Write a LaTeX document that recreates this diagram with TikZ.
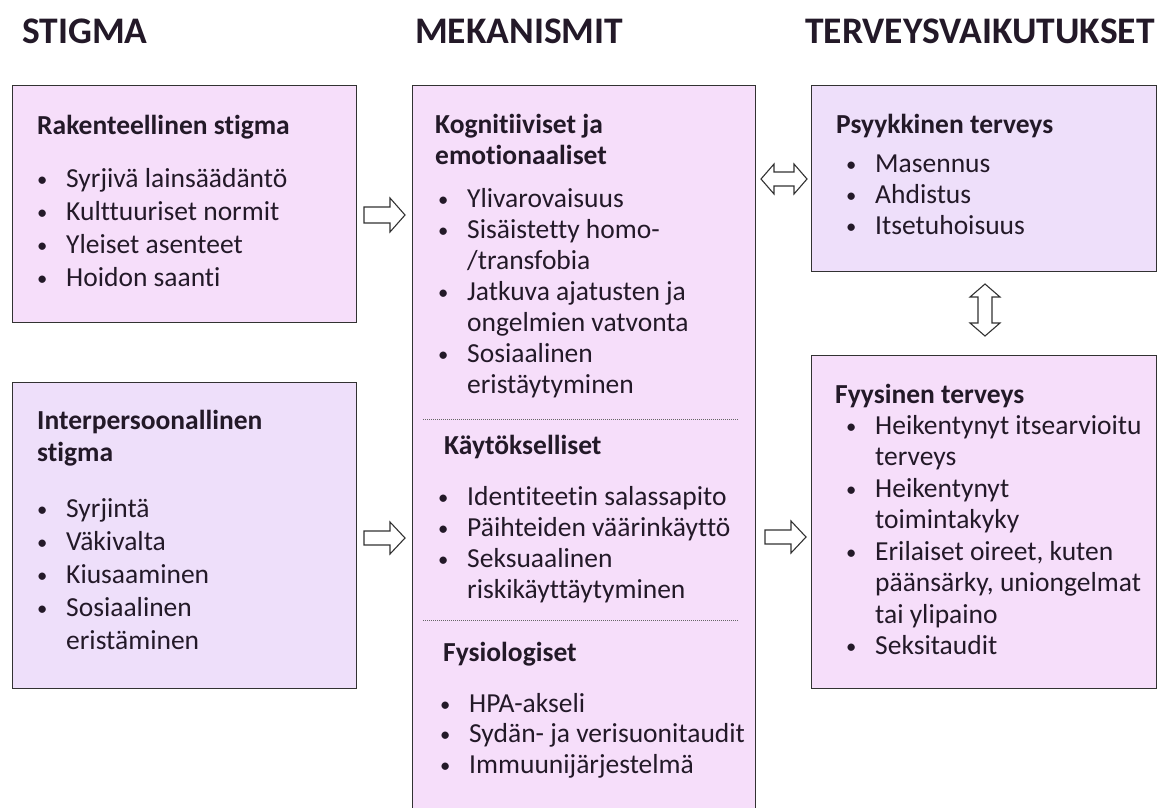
\documentclass[tikz,border=0pt]{standalone}
\usepackage{fontspec}
\setmainfont{Carlito}[Ligatures={NoCommon,NoRare,NoContextual}]
\definecolor{pinkbox}{RGB}{246,222,250}
\definecolor{lavbox}{RGB}{238,223,250}
\definecolor{txt}{RGB}{35,25,40}
\definecolor{edge}{RGB}{50,50,50}
\newcommand\bl[1]{\makebox[29pt][l]{\raisebox{1pt}{\scalebox{0.75}{\textbullet}}}#1}
\newcommand\cn[1]{\hspace*{29pt}#1}
\tikzset{
  box/.style={draw=edge, line width=1.2pt, anchor=north west, inner sep=0pt},
  ttl/.style={anchor=base west, inner sep=0pt, text=txt, font=\fontsize{37.5}{42}\selectfont\bfseries},
  hd/.style={anchor=base west, inner sep=0pt, text=txt, text width=310pt, align=flush left, font=\fontsize{27.5}{#1}\selectfont\bfseries},
  hd/.default=32,
  lst/.style={anchor=base west, inner sep=0pt, text=txt, text width=320pt, align=flush left, font=\fontsize{27.5}{#1}\selectfont},
  lst/.default=33,
  sep/.style={draw=gray!80!black, line width=0.9pt, dash pattern=on 1pt off 1pt},
  blk/.style={draw=edge, line width=1.1pt, fill=white, line join=miter}
}
\begin{document}
\begin{tikzpicture}[x=1pt,y=-1pt]
\clip (0,0) rectangle (1159,807);
\fill[white] (0,0) rectangle (1159,807);
% titles
\node[ttl] (t1) at (22,43) {STIGMA};
\node[ttl] (t2) at (415,43) {MEKANISMIT};
\node[ttl] (t3) at (805,43) {TERVEYSVAIKUTUKSET};
% boxes
\node[box, fill=pinkbox, minimum width=344pt, minimum height=237pt] (b1) at (12,85) {};
\node[box, fill=lavbox, minimum width=344pt, minimum height=306pt] (b2) at (12,382) {};
\node[box, fill=pinkbox, minimum width=343pt, minimum height=760pt] (mid) at (412,85) {};
\node[box, fill=lavbox, minimum width=345pt, minimum height=186pt] (psy) at (811,85) {};
\node[box, fill=pinkbox, minimum width=345pt, minimum height=333pt] (fyy) at (811,355) {};
% box 1
\node[hd] (b1h) at (37,134) {Rakenteellinen stigma};
\node[lst] (b1l) at (37,187) {\bl{Syrjivä lainsäädäntö}\\ \bl{Kulttuuriset normit}\\ \bl{Yleiset asenteet}\\ \bl{Hoidon saanti}};
% box 2
\node[hd] (b2h) at (37,429) {Interpersoonallinen\\ stigma};
\node[lst] (b2l) at (37,517) {\bl{Syrjintä}\\ \bl{Väkivalta}\\ \bl{Kiusaaminen}\\ \bl{Sosiaalinen}\\ \cn{eristäminen}};
% middle
\node[hd=31] (m1h) at (435,133) {Kognitiiviset ja\\ emotionaaliset};
\node[lst=31] (m1l) at (438,207) {\bl{Ylivarovaisuus}\\ \bl{Sisäistetty homo-}\\ \cn{/transfobia}\\ \bl{Jatkuva ajatusten ja}\\ \cn{ongelmien vatvonta}\\ \bl{Sosiaalinen}\\ \cn{eristäytyminen}};
\coordinate (s1a) at (423,419);
\coordinate (s1b) at (738,419);
\draw[sep] (s1a) -- (s1b);
\node[hd] (m2h) at (444,454) {Käytökselliset};
\node[lst=31] (m2l) at (438,505) {\bl{Identiteetin salassapito}\\ \bl{Päihteiden väärinkäyttö}\\ \bl{Seksuaalinen}\\ \cn{riskikäyttäytyminen}};
\coordinate (s2a) at (423,620);
\coordinate (s2b) at (738,620);
\draw[sep] (s2a) -- (s2b);
\node[hd] (m3h) at (443,661) {Fysiologiset};
\node[lst=30.5] (m3l) at (440,712) {\bl{HPA-akseli}\\ \bl{Sydän- ja verisuonitaudit}\\ \bl{Immuunijärjestelmä}};
% psyykkinen
\node[hd] (ph) at (836,133) {Psyykkinen terveys};
\node[lst=31] (pl) at (846,172) {\bl{Masennus}\\ \bl{Ahdistus}\\ \bl{Itsetuhoisuus}};
% fyysinen
\node[hd] (fh) at (835,403) {Fyysinen terveys};
\node[lst=31.5] (fl) at (846,434) {\bl{Heikentynyt itsearvioitu}\\ \cn{terveys}\\ \bl{Heikentynyt}\\ \cn{toimintakyky}\\ \bl{Erilaiset oireet, kuten}\\ \cn{päänsärky, uniongelmat}\\ \cn{tai ylipaino}\\ \bl{Seksitaudit}};
% block arrows
\draw[blk, shift={(384.5,215)}] (-20.5,-8) -- (5.5,-8) -- (5.5,-17) -- (20.5,0) -- (5.5,17) -- (5.5,8) -- (-20.5,8) -- cycle;
\draw[blk, shift={(384.5,538)}] (-20.5,-7) -- (5.5,-7) -- (5.5,-16) -- (20.5,0) -- (5.5,16) -- (5.5,7) -- (-20.5,7) -- cycle;
\draw[blk, shift={(785.5,537)}] (-20.5,-7) -- (5.5,-7) -- (5.5,-16) -- (20.5,0) -- (5.5,16) -- (5.5,7) -- (-20.5,7) -- cycle;
\draw[blk, shift={(784,179)}] (-23,0) -- (-10,-15) -- (-10,-7) -- (10,-7) -- (10,-15) -- (23,0) -- (10,15) -- (10,7) -- (-10,7) -- (-10,15) -- cycle;
\draw[blk, shift={(985,310)}] (0,-26) -- (15,-13) -- (7,-13) -- (7,13) -- (15,13) -- (0,26) -- (-15,13) -- (-7,13) -- (-7,-13) -- (-15,-13) -- cycle;
\end{tikzpicture}
\end{document}
